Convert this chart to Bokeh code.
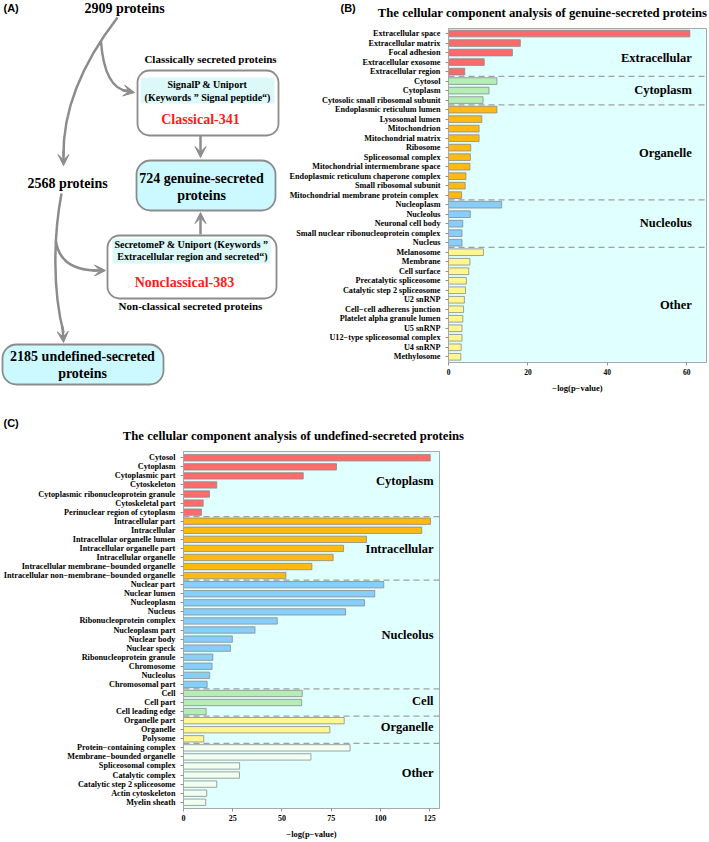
from bokeh.plotting import figure
from bokeh.layouts import row, column
from bokeh.models import Range1d, FixedTicker, Span, BoxAnnotation, Arrow, VeeHead
from bokeh.core.properties import value
from bokeh.embed import file_html
from bokeh.resources import INLINE

SERIF = "Liberation Serif"
SANS = "Liberation Sans"
GREY = "#8C8C8C"

# ---------------- Panel B data ----------------
B_terms = [
    "Extracellular space", "Extracellular matrix", "Focal adhesion", "Extracellular exosome", "Extracellular region",
    "Cytosol", "Cytoplasm", "Cytosolic small ribosomal subunit",
    "Endoplasmic reticulum lumen", "Lysosomal lumen", "Mitochondrion", "Mitochondrial matrix", "Ribosome",
    "Spliceosomal complex", "Mitochondrial intermembrane space", "Endoplasmic reticulum chaperone complex",
    "Small ribosomal subunit", "Mitochondrial membrane  protein complex",
    "Nucleoplasm", "Nucleolus", "Neuronal cell body", "Small nuclear ribonucleoprotein complex", "Nucleus",
    "Melanosome", "Membrane", "Cell surface", "Precatalytic spliceosome", "Catalytic step 2 spliceosome",
    "U2 snRNP", "Cell\u2212cell adherens junction", "Platelet alpha granule lumen", "U5 snRNP",
    "U12\u2212type spliceosomal complex", "U4 snRNP", "Methylosome",
]
B_values = [
    60.8, 18.1, 16.1, 9.0, 4.1,
    12.2, 10.2, 8.7,
    12.2, 8.4, 7.7, 7.7, 5.6, 5.5, 5.4, 4.4, 4.2, 3.3,
    13.4, 5.5, 3.6, 3.4, 3.4,
    8.8, 5.4, 5.1, 4.5, 4.3, 4.0, 3.8, 3.6, 3.4, 3.4, 3.2, 3.1,
]
B_group_names = ["Extracellular", "Cytoplasm", "Organelle", "Nucleolus", "Other"]
B_group_sizes = [5, 3, 10, 5, 12]
B_group_colors = ["#F96B6B", "#B4EEB4", "#FFB90F", "#87CEFA", "#FFF68F"]
B_ticks = [0, 20, 40, 60]
B_title = "The cellular component analysis of genuine-secreted proteins"

# ---------------- Panel C data ----------------
C_terms = [
    "Cytosol", "Cytoplasm", "Cytoplasmic part", "Cytoskeleton", "Cytoplasmic ribonucleoprotein granule",
    "Cytoskeletal part", "Perinuclear region of cytoplasm",
    "Intracellular part", "Intracellular", "Intracellular organelle lumen", "Intracellular organelle part",
    "Intracellular organelle", "Intracellular membrane\u2212bounded organelle",
    "Intracellular non\u2212membrane\u2212bounded organelle",
    "Nuclear part", "Nuclear lumen", "Nucleoplasm", "Nucleus", "Ribonucleoprotein complex", "Nucleoplasm part",
    "Nuclear body", "Nuclear speck", "Ribonucleoprotein granule", "Chromosome", "Nucleolus", "Chromosomal part",
    "Cell", "Cell part", "Cell leading edge",
    "Organelle part", "Organelle", "Polysome",
    "Protein\u2212containing complex", "Membrane\u2212bounded organelle", "Spliceosomal complex",
    "Catalytic complex", "Catalytic step 2 spliceosome", "Actin cytoskeleton", "Myelin sheath",
]
C_values = [
    125.3, 77.7, 60.8, 16.9, 13.2, 10.0, 9.1,
    125.4, 121.0, 92.9, 81.3, 76.0, 65.2, 52.0,
    101.7, 97.1, 91.9, 82.3, 47.6, 36.3, 24.8, 23.8, 14.9, 14.5, 13.3, 12.0,
    60.3, 60.0, 11.5,
    81.6, 74.3, 10.3,
    84.6, 64.7, 28.5, 28.4, 16.9, 11.8, 11.3,
]
C_group_names = ["Cytoplasm", "Intracellular", "Nucleolus", "Cell", "Organelle", "Other"]
C_group_sizes = [7, 7, 12, 3, 3, 7]
C_group_colors = ["#FF6A6A", "#FFB90F", "#87CEFA", "#B4EEB4", "#FFF68F", "#F0FFF0"]
C_ticks = [0, 25, 50, 75, 100, 125]
C_title = "The cellular component analysis of undefined-secreted proteins"

X_LABEL = "\u2212log(p\u2212value)"


def txt(p, x, y, s, size, color="black", align="center", font=SERIF, style="bold"):
    p.text(x=[x], y=[-y], text=[s], text_font=value(font), text_font_style=style,
           text_font_size=size, text_color=color, text_align=align, text_baseline="middle")


def blank(w, h, x0, x1, y0, y1):
    p = figure(width=w, height=h, x_range=Range1d(x0, x1), y_range=Range1d(-y1, -y0),
               toolbar_location=None, output_backend="svg", min_border=0,
               x_axis_location=None, y_axis_location=None)
    p.frame_align = False
    p.outline_line_color = None
    p.grid.visible = False
    p.background_fill_color = "white"
    return p


def rbox(p, l, r, t, b, fill, radius, line=GREY, lw=1.8):
    p.add_layout(BoxAnnotation(left=l, right=r, top=-t, bottom=-b, fill_color=fill, fill_alpha=1,
                               line_color=line, line_width=lw, line_alpha=1,
                               border_radius=radius, level="underlay"))


def arrow(p, x0, y0, x1, y1):
    p.add_layout(Arrow(end=VeeHead(size=11, fill_color=GREY, line_color=GREY, line_width=1),
                       x_start=x0, y_start=-y0, x_end=x1, y_end=-y1,
                       line_color=GREY, line_width=2.5))


def bar_panel(terms, values, sizes, names, colors, ticks, xmax, pad_top, pad_bot,
              w, h, mb, label_x, label_shift, tick_size):
    n = len(terms)
    ys = list(range(n))
    fills = []
    for size, col in zip(sizes, colors):
        fills += [col] * size
    p = figure(width=w, height=h, x_range=Range1d(0, xmax), y_range=Range1d(n - 1 + pad_bot, -pad_top),
               toolbar_location=None, output_backend="svg",
               min_border_left=mb[0], min_border_right=mb[1], min_border_top=mb[2], min_border_bottom=mb[3])
    p.frame_align = False
    p.background_fill_color = "#E0FFFF"
    p.border_fill_color = "white"
    p.outline_line_color = "#A8A8A8"
    p.grid.visible = False

    start = 0
    for i, (name, size) in enumerate(zip(names, sizes)):
        if i > 0:
            p.add_layout(Span(location=start - 0.5, dimension="width", line_color="#A0A0A0",
                              line_dash="6 4", line_width=1.2, level="underlay"))
        mid = start + (size - 1) / 2 + label_shift[i]
        p.text(x=[label_x], y=[mid], text=[name], text_font=value(SERIF), text_font_style="bold",
               text_font_size="12.5px", text_color="black", text_align="right", text_baseline="middle")
        start += size

    p.hbar(y=ys, left=0, right=values, height=0.7, fill_color=fills, line_color="#8A8A8A", line_width=0.8)

    ya = p.yaxis[0]
    ya.ticker = FixedTicker(ticks=ys)
    ya.major_label_overrides = {i: t for i, t in enumerate(terms)}
    ya.major_label_text_font = SERIF
    ya.major_label_text_font_style = "bold"
    ya.major_label_text_font_size = "8.2px"
    ya.major_label_text_color = "black"
    ya.major_tick_out = 3
    ya.major_tick_in = 0
    ya.minor_tick_line_color = None
    ya.major_tick_line_color = "#909090"
    ya.axis_line_color = "#A8A8A8"
    ya.major_label_standoff = 5

    xa = p.xaxis[0]
    xa.ticker = FixedTicker(ticks=ticks)
    xa.major_label_text_font = SERIF
    xa.major_label_text_font_style = "bold"
    xa.major_label_text_font_size = tick_size
    xa.major_label_text_color = "black"
    xa.major_tick_out = 3
    xa.major_tick_in = 0
    xa.minor_tick_line_color = None
    xa.major_tick_line_color = "#909090"
    xa.axis_line_color = "#A8A8A8"
    xa.major_label_standoff = 3
    xa.axis_label = X_LABEL
    xa.axis_label_text_font = SERIF
    xa.axis_label_text_font_style = "bold"
    xa.axis_label_text_font_size = "8.5px"
    xa.axis_label_text_color = "black"
    xa.axis_label_standoff = 5
    return p


# ---------------- Panel A (flow chart) ----------------
A = blank(280, 405, 0, 280, 0, 405)

rbox(A, 137, 278, 70, 135, "white", 12)
rbox(A, 140, 274, 77, 103, "#DDF8F9", 0, line=None, lw=0)
rbox(A, 136, 275, 160, 210, "#CCF9FF", 14)
rbox(A, 107, 276, 235, 298, "white", 12)
rbox(A, 112, 270, 238, 263, "#DDF8F9", 0, line=None, lw=0)
rbox(A, 2, 163, 344, 384, "#CCF9FF", 14)

A.bezier(x0=[117], y0=[-17], x1=[63], y1=[-156], cx0=[90], cy0=[-52], cx1=[62], cy1=[-100],
         line_color=GREY, line_width=2.5)
arrow(A, 63, 150, 63, 165)
A.quadratic(x0=[100.4], y0=[-40.5], x1=[127], y1=[-90.5], cx=[104], cy=[-88], line_color=GREY, line_width=2.5)
arrow(A, 122, 89.8, 134, 92)
arrow(A, 200, 135, 200, 157)
arrow(A, 200, 234, 200, 212)
A.bezier(x0=[61], y0=[-193], x1=[63], y1=[-332], cx0=[53], cy0=[-235], cx1=[52], cy1=[-290],
         line_color=GREY, line_width=2.5)
arrow(A, 62, 326, 63, 342)
A.quadratic(x0=[55.4], y0=[-240.8], x1=[97], y1=[-270], cx=[60], cy=[-270], line_color=GREY, line_width=2.5)
arrow(A, 92, 270, 105, 270)

txt(A, 3, 7, "(A)", "11px", align="left", font=SANS)
txt(A, 124, 8, "2909 proteins", "14px")
txt(A, 210, 58, "Classically secreted proteins", "11px")
txt(A, 207, 84, "SignalP & Uniport", "10px")
txt(A, 207, 97, "(Keywords \u201d Signal peptide\u201c)", "10px")
txt(A, 200, 119, "Classical-341", "14px", color="#FF1A1A")
txt(A, 201, 178, "724 genuine-secreted", "14px")
txt(A, 201, 195, "proteins", "14px")
txt(A, 67, 183, "2568 proteins", "14px")
txt(A, 191, 244, "SecretomeP & Uniport (Keywords \u201d", "10px")
txt(A, 192, 256, "Extracellular region and secreted\u201c)", "10px")
txt(A, 184, 282, "Nonclassical-383", "14px", color="#FF1A1A")
txt(A, 190, 305, "Non-classical secreted proteins", "11px")
txt(A, 82, 356, "2185 undefined-secreted", "14px")
txt(A, 82, 373, "proteins", "14px")

# ---------------- Panel B ----------------
Bh = blank(428, 20, 280, 708, 0, 20)
txt(Bh, 340, 7, "(B)", "11px", align="left", font=SANS)
txt(Bh, 542, 12, B_title, "12.7px")

B = bar_panel(B_terms, B_values, B_group_sizes, B_group_names, B_group_colors, B_ticks,
              65, 0.53, 0.6, 428, 385, (168, 2, 8, 43), 61.3, [0.6, -0.1, 0.1, -0.1, 0.1], "7.5px")

# ---------------- Panel C ----------------
Ch = blank(708, 39, 0, 708, 405, 444)
txt(Ch, 3, 422, "(C)", "11px", align="left", font=SANS)
txt(Ch, 293, 435, C_title, "12.7px")

C = bar_panel(C_terms, C_values, C_group_sizes, C_group_names, C_group_colors, C_ticks,
              130, 0.69, 0.69, 708, 397, (183, 269, 7, 30), 127, [-0.4, 0.1, 0.0, -0.2, -0.3, -0.2], "8px")

layout = column(row(A, column(Bh, B)), Ch, C)

open("out.html", "w").write(file_html(layout, INLINE))
